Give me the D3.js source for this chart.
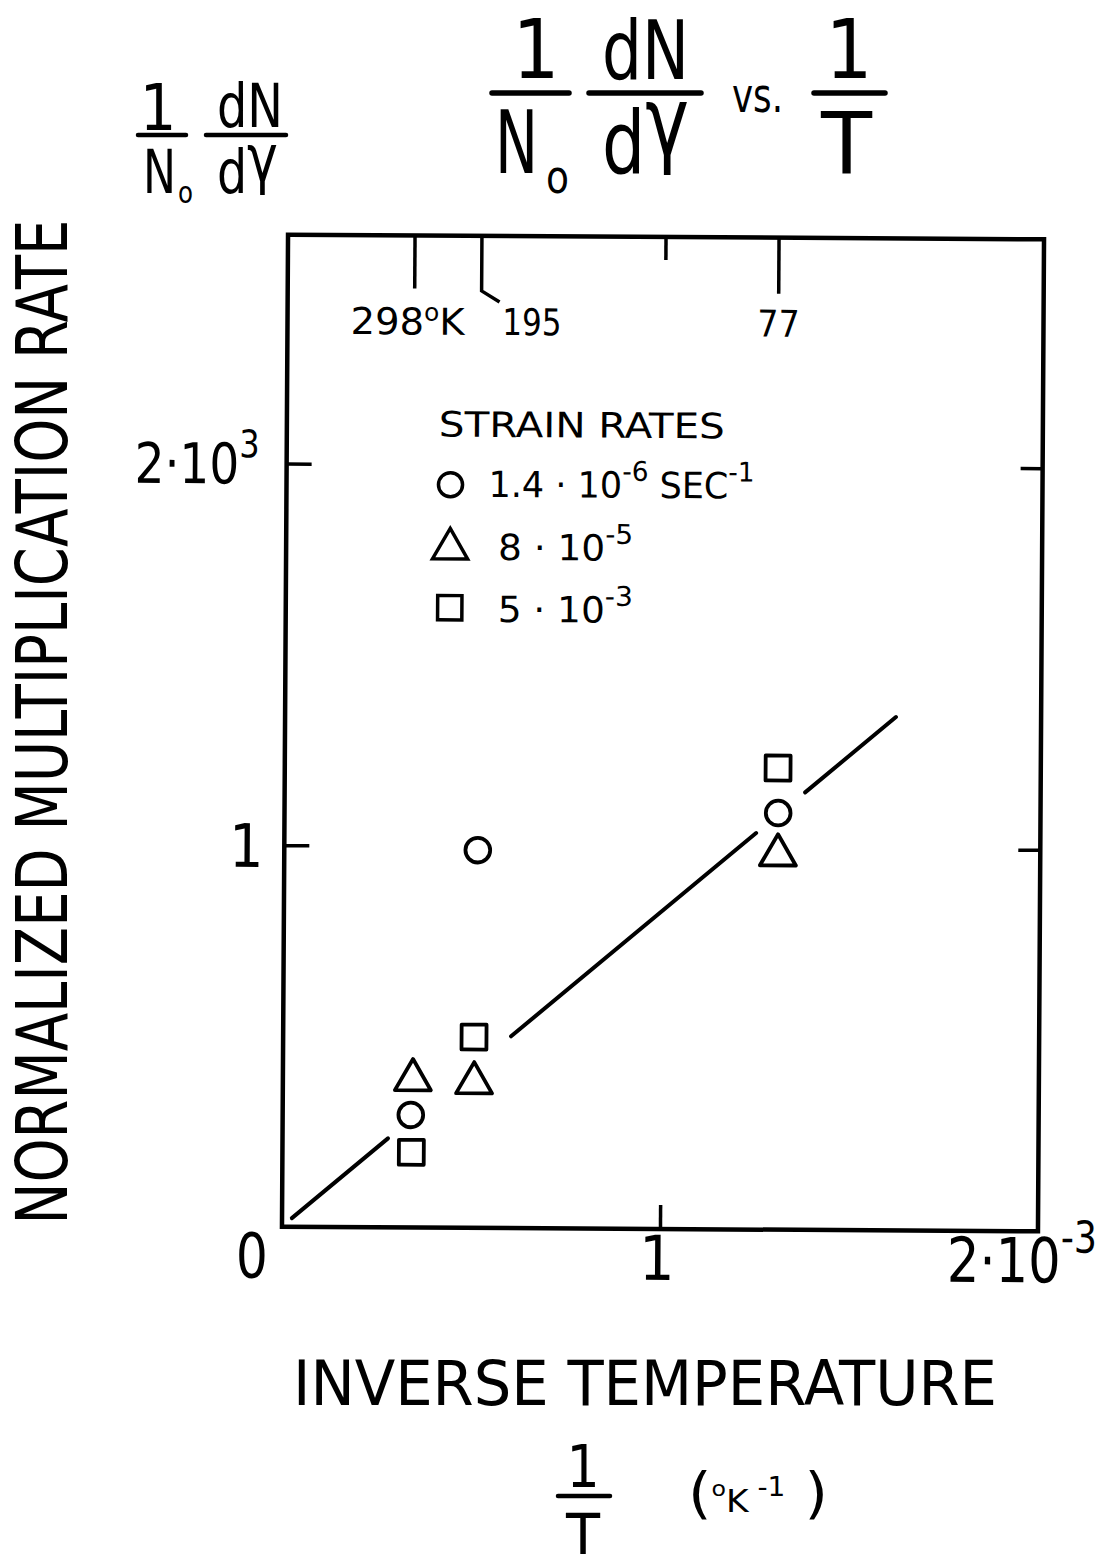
<!DOCTYPE html>
<html><head><meta charset="utf-8">
<script src="https://cdn.jsdelivr.net/npm/d3@7"></script>
<style>
html,body{margin:0;padding:0;background:#fff;}
svg text{font-family:"DejaVu Sans Condensed","DejaVu Sans",sans-serif;fill:#000;}
</style></head><body>
<svg id="chart" width="1116" height="1554"></svg>
<script>
// Normalized multiplication rate (1/N0 dN/dγ, ×10^3) versus inverse temperature (×10^-3 °K^-1)
const strainRateLabels = [
  [{t:"1.4 · 10"},{t:"-6",sup:true},{t:" SEC"},{t:"-1",sup:true}],
  [{t:"8 · 10"},{t:"-5",sup:true}],
  [{t:"5 · 10"},{t:"-3",sup:true}]
];
const seriesSymbols = ["circle","triangle","square"];
const circleX = [0.339, 0.512, 1.306];
const circleY = [0.295, 0.99, 1.092];
const triangleX = [0.344, 0.506, 1.306];
const triangleY = [0.387, 0.38, 0.982];
const squareX = [0.341, 0.505, 1.305];
const squareY = [0.197, 0.50, 1.21];
// straight fit through the points, broken where it would cross the markers
const fitSlope = 0.832;
const fitIntercept = 0.001;
const fitSegments = [[0.026, 0.279], [0.603, 1.248], [1.377, 1.616]];
const xTickValues = [0, 1, 2];
const yTickValues = [1, 2];
const topTickValues = [0.336, 0.513, 1.0, 1.299];
const topTickLabels = ["298", "195", "", "77"];

const svg = d3.select("#chart");
const frame = {left: 285, right: 1041, top: 237, bottom: 1229};
const x = d3.scaleLinear().domain([0, 2]).range([frame.left, frame.right]);
const y = d3.scaleLinear().domain([0, 2.6]).range([frame.bottom, frame.top]);

// rich text helper: parts may be raised (sup) or lowered (sub)
function rich(g, px, py, parts, size, anchor, len) {
  const t = g.append("text").attr("x", px).attr("y", py)
    .attr("font-size", size).attr("text-anchor", anchor || "start");
  let shift = 0;
  parts.forEach(p => {
    const s = typeof p === "string" ? {t: p} : p;
    const ts = t.append("tspan").text(s.t);
    let target = 0, fs = null;
    if (s.sup) { target = s.dy != null ? s.dy : -size * 0.42; fs = s.size || size * 0.72; }
    if (s.sub) { target = s.dy != null ? s.dy : size * 0.25; fs = s.size || size * 0.6; }
    if (s.dy != null && !s.sup && !s.sub) target = s.dy;
    if (target !== shift) { ts.attr("dy", target - shift); shift = target; }
    if (fs) ts.attr("font-size", fs);
    if (s.size && !fs) ts.attr("font-size", s.size);
  });
  if (len) t.attr("textLength", len).attr("lengthAdjust", "spacingAndGlyphs");
  return t;
}
function bar(g, x1, x2, yy, w) {
  g.append("line").attr("x1", x1).attr("x2", x2).attr("y1", yy).attr("y2", yy)
    .attr("stroke", "#000").attr("stroke-width", w || 5).attr("stroke-linecap", "round");
}

// ---- titles ----
const head = svg.append("g");
// small fraction over the y axis
rich(head, 158, 130, ["1"], 64, "middle");
bar(head, 138, 186, 135, 4.5);
rich(head, 143, 193, ["N"], 60, "start", 33);
rich(head, 178, 203, ["o"], 30, "start", 15);
rich(head, 217, 127, ["dN"], 60, "start", 66);
bar(head, 206, 286, 135, 4.5);
rich(head, 217, 193, [{t:"d"}, {t:"γ", dy:-12, size:66}], 60, "start", 61);

// main title
rich(head, 536, 78, ["1"], 82, "middle");
bar(head, 492, 569, 93, 5.5);
rich(head, 495, 173, ["N"], 88, "start", 43);
rich(head, 546, 193, ["o"], 46, "start", 23);
rich(head, 602, 79, ["dN"], 82, "start", 87);
bar(head, 589, 701, 93, 5.5);
rich(head, 602, 173, [{t:"d"}, {t:"γ", dy:-18, size:96}], 88, "start", 87);
rich(head, 732, 112, ["vs."], 48, "start", 51);
rich(head, 849, 78, ["1"], 82, "middle");
bar(head, 814, 885, 93, 5.5);
rich(head, 821, 173, ["T"], 86, "start", 51);

// ---- plot (the drawn frame sits very slightly rotated) ----
const plot = svg.append("g").attr("transform", "rotate(0.35,663,733)");

plot.append("rect").attr("x", frame.left).attr("y", frame.top)
  .attr("width", frame.right - frame.left).attr("height", frame.bottom - frame.top)
  .attr("fill", "none").attr("stroke", "#000").attr("stroke-width", 4.5);

function styleAxis(g) {
  g.select(".domain").remove();
  g.selectAll(".tick line").attr("stroke", "#000").attr("stroke-width", 3.5);
  g.selectAll(".tick text").remove();
}
plot.append("g").attr("transform", `translate(0,${frame.bottom})`)
  .call(d3.axisBottom(x).tickValues(xTickValues.filter(v => v > 0 && v < 2)).tickSize(-24)).call(styleAxis);
plot.append("g").attr("transform", `translate(${frame.left},0)`)
  .call(d3.axisLeft(y).tickValues(yTickValues).tickSize(-25)).call(styleAxis);
plot.append("g").attr("transform", `translate(${frame.right},0)`)
  .call(d3.axisRight(y).tickValues(yTickValues).tickSize(-22)).call(styleAxis);

// temperature marks along the top edge
const topLen = [53, 55, 23, 56];
topTickValues.forEach((v, i) => {
  const tx = x(v);
  let d = `M${tx},${frame.top}V${frame.top + topLen[i]}`;
  if (topTickLabels[i] === "195") d += `l18,11`;
  plot.append("path").attr("d", d).attr("fill", "none").attr("stroke", "#000")
    .attr("stroke-width", 3.5);
});
rich(plot, x(topTickValues[0]) - 64, 336,
  [{t:"298"}, {t:"o", sup:true, dy:-14, size:24}, {t:"K", dy:0}], 37, "start", 114);
rich(plot, x(topTickValues[1]) + 21, 336, ["195"], 37, "start", 59);
rich(plot, x(topTickValues[3]), 336, ["77"], 37, "middle");

// tick labels
rich(plot, x(0) - 30, 1280, ["0"], 62, "middle", 32);
rich(plot, x(1) - 3, 1280, ["1"], 62, "middle");
rich(plot, x(2) - 91, 1280, [{t:"2·10"}, {t:"-3", sup:true, dy:-30, size:44}], 62, "start", 150);
rich(plot, x(0) - 152, y(2) + 20, [{t:"2·10"}, {t:"3", sup:true, dy:-26, size:38}], 56, "start", 125);
rich(plot, x(0) - 38, y(1) + 22, ["1"], 60, "middle");

// fit line
const fitLine = d3.line().x(d => x(d)).y(d => y(fitSlope * d + fitIntercept));
plot.selectAll("path.fit").data(fitSegments).join("path").attr("class", "fit")
  .attr("d", d => fitLine(d)).attr("fill", "none").attr("stroke", "#000")
  .attr("stroke-width", 4).attr("stroke-linecap", "round");

// data markers
const symType = {circle: d3.symbolCircle, triangle: d3.symbolTriangle, square: d3.symbolSquare};
const symSize = {circle: 480, triangle: 560, square: 620};
const series = [
  {sym: "circle", xs: circleX, ys: circleY},
  {sym: "triangle", xs: triangleX, ys: triangleY},
  {sym: "square", xs: squareX, ys: squareY}
];
series.forEach(s => {
  const pts = s.xs.map((v, i) => [v, s.ys[i]]);
  plot.append("g").selectAll("path").data(pts).join("path")
    .attr("transform", d => `translate(${x(d[0])},${y(d[1])})`)
    .attr("d", d3.symbol().type(symType[s.sym]).size(symSize[s.sym]))
    .attr("fill", "#fff").attr("stroke", "#000").attr("stroke-width", 3.8)
    .attr("stroke-linejoin", "round");
});

// legend
const legend = plot.append("g");
rich(legend, 437, 438, ["STRAIN  RATES"], 35, "start", 286);
const legendRows = [{cy: 486, ty: 498}, {cy: 550, ty: 561}, {cy: 609, ty: 623}];
seriesSymbols.forEach((sym, i) => {
  legend.append("path").attr("transform", `translate(${449},${legendRows[i].cy})`)
    .attr("d", d3.symbol().type(symType[sym]).size(symSize[sym] * 0.95))
    .attr("fill", "#fff").attr("stroke", "#000").attr("stroke-width", 3.5);
  const parts = strainRateLabels[i].map(p => p.sup ? {t: p.t, sup: true, dy: -17, size: 27} : {t: p.t, dy: 0});
  rich(legend, i === 0 ? 487 : 497, legendRows[i].ty, parts, 36, "start", i === 0 ? 266 : 135);
});

// ---- axis titles ----
rich(svg, 67, 722, ["NORMALIZED MULTIPLICATION RATE"], 71, "middle", 1005)
  .attr("transform", "rotate(-90,67,722)");
rich(svg, 645, 1405, ["INVERSE  TEMPERATURE"], 62, "middle", 704);

// 1/T (°K^-1)
rich(svg, 583, 1487, ["1"], 58, "middle");
bar(svg, 558, 610, 1496, 4.5);
rich(svg, 583, 1560, ["T"], 64, "middle", 34);
rich(svg, 688, 1512, [{t:"("}, {t:"o", dy:-16, size:22}, {t:"K", dy:0, size:32},
  {t:" -", dy:-16, size:26}, {t:"1", dy:-16, size:26}, {t:" )", dy:0, size:56}], 56, "start", 140);
</script>
</body></html>
